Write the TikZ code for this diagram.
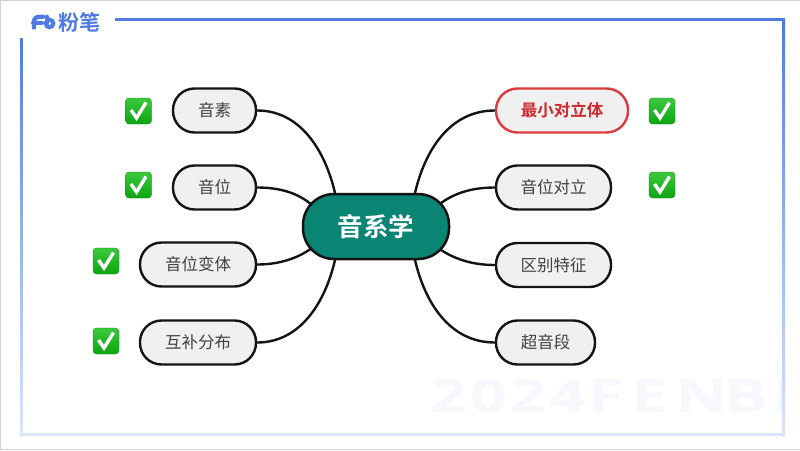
\documentclass[tikz,border=0pt]{standalone}
\usepackage{fontspec}
\setmainfont{Liberation Sans}
\newfontfamily\cjk{Noto Sans CJK SC}
\newfontfamily\cjkb{Noto Sans CJK SC Bold}
\newfontfamily\wmfont{Open Sans Bold}
\definecolor{tealroot}{HTML}{0A8473}
\definecolor{leaffill}{HTML}{F0F0F0}
\definecolor{redline}{HTML}{DE3B40}
\definecolor{redtext}{HTML}{D0282E}
\definecolor{leaftext}{HTML}{404040}
\definecolor{brandblue}{HTML}{4F7BE3}
\definecolor{framemid}{HTML}{8FB0F2}
\definecolor{framelight}{HTML}{DCE6FA}
\definecolor{wmark}{HTML}{F6F8FD}
\definecolor{outer}{HTML}{D2D2D2}
\definecolor{checkTop}{HTML}{3CC83E}
\definecolor{checkBot}{HTML}{0CA512}
\tikzset{
 leaf/.style={draw=black!92,line width=2.4pt,fill=leaffill,rectangle,rounded corners=21.5pt,minimum height=44pt,inner xsep=0pt,inner ysep=0pt,font=\cjk\fontsize{16.5}{17}\selectfont,text=leaftext},
 link/.style={draw=black!92,line width=2.4pt},
 wmletter/.style={text=wmark,font=\wmfont\fontsize{46}{46}\selectfont,xscale=1.4,inner sep=0pt},
 tick/.pic={
  \shade[top color=checkTop,bottom color=checkBot,rounded corners=3.5pt,draw=checkBot!80!black,line width=.3pt] (-13,-13) rectangle (13,13);
  \draw[white,line width=3.4pt,line join=miter] (-7.5,-1) -- (-2,7) -- (7.5,-8.5);
 }
}
\begin{document}
\begin{tikzpicture}[x=1pt,y=-1pt]
\useasboundingbox (0,0) rectangle (800,450);
\fill[white] (0,0) rectangle (800,450);
\fill[outer] (0,0) rectangle (800,1);
\fill[outer] (0,0) rectangle (1,450);
\fill[outer] (0,448.5) rectangle (800,450);
% watermark
\begin{scope}
\clip (21,20) rectangle (782,433);
\node[wmletter] (w1) at (448.5,396) {2};
\node[wmletter] (w2) at (489,396) {0};
\node[wmletter] (w3) at (527.5,396) {2};
\node[wmletter] (w4) at (567.5,396) {4};
\node[wmletter] (w5) at (606.5,396) {F};
\node[wmletter] (w6) at (650,396) {E};
\node[wmletter] (w7) at (702,396) {N};
\node[wmletter] (w8) at (746.5,396) {B};
\node[wmletter] (w9) at (784,396) {I};
\end{scope}
% frame
\fill[brandblue] (115,18) rectangle (785,21);
\shade[top color=brandblue,bottom color=framelight] (20,38) rectangle (22.5,436);
\shade[top color=brandblue,middle color=framemid,bottom color=framelight] (782,18) rectangle (785,436);
\fill[framelight] (20,433) rectangle (785,436);
% logo
\draw[brandblue,line width=4.4pt,line cap=round,line join=round] (34,27.5) -- (34,22) .. controls (34,18) and (36.5,16.8) .. (40,16.8) -- (43,16.8);
\draw[brandblue,line width=4pt,line cap=round] (33,22.5) -- (42,22.5);
\draw[brandblue,line width=4pt,line cap=round] (46.5,16.5) -- (46.5,24);
\draw[brandblue,line width=4pt] (49.5,23.5) circle (3.8pt);
\node[anchor=center,text=brandblue,font=\cjkb\fontsize{21}{21}\selectfont,inner sep=0pt] (brand) at (79.5,22) {粉笔};
% nodes
\node[draw=black!92,line width=2.5pt,fill=tealroot,rectangle,rounded corners=31pt,minimum width=146pt,minimum height=65pt,inner sep=0pt,text=white,font=\cjkb\fontsize{25.5}{26}\selectfont] (root) at (376,226.5) {音系学};
\node[leaf,minimum width=83pt] (a) at (214.5,110.5) {音素};
\node[leaf,minimum width=83pt] (b) at (214.5,187.5) {音位};
\node[leaf,minimum width=116pt] (c) at (198,264.5) {音位变体};
\node[leaf,minimum width=116pt] (d) at (198,342.5) {互补分布};
\node[leaf,draw=redline,minimum width=132pt,text=redtext,font=\cjkb\fontsize{16.5}{17}\selectfont] (e) at (562,110.5) {最小对立体};
\node[leaf,minimum width=115pt] (f) at (553.5,187.5) {音位对立};
\node[leaf,minimum width=115pt] (g) at (553.5,265) {区别特征};
\node[leaf,minimum width=99pt] (h) at (545.5,342.5) {超音段};
% attachment points on root
\coordinate (rNW) at (335,193);
\coordinate (rWN) at (312,205);
\coordinate (rWS) at (312,248);
\coordinate (rSW) at (335,260);
\coordinate (rNE) at (415,193);
\coordinate (rEN) at (441,203);
\coordinate (rES) at (441,250);
\coordinate (rSE) at (415,260);
% connectors
\draw[link] (a.east) .. controls (300,110.5) and (325,150) .. (rNW);
\draw[link] (b.east) .. controls (280,187.5) and (298,193) .. (rWN);
\draw[link] (c.east) .. controls (280,264.5) and (298,258) .. (rWS);
\draw[link] (d.east) .. controls (300,342.5) and (325,303) .. (rSW);
\draw[link] (e.west) .. controls (450,110.5) and (425,150) .. (rNE);
\draw[link] (f.west) .. controls (472,187.5) and (455,193) .. (rEN);
\draw[link] (g.west) .. controls (472,265) and (455,259) .. (rES);
\draw[link] (h.west) .. controls (450,342.5) and (425,303) .. (rSE);
% ticks
\foreach \tx/\ty in {138.5/111,138.5/185,106/261,106/341,662/111,662/185}
 \pic at (\tx,\ty) {tick};
\end{tikzpicture}
\end{document}
